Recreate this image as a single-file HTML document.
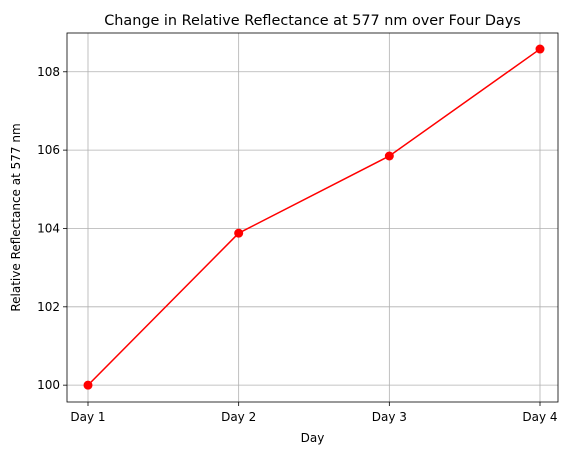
<!DOCTYPE html>
<html><head><meta charset="utf-8"><style>
body{margin:0;background:#fff;}
svg text{font-family:"DejaVu Sans","Liberation Sans",sans-serif;fill:#000;}
</style></head><body>
<svg id="chart" width="571" height="455" xmlns="http://www.w3.org/2000/svg"></svg>
<script>
const categories = ["Day 1","Day 2","Day 3","Day 4"];
const values = [100, 103.88, 105.85, 108.58];
const yTicks = [100, 102, 104, 106, 108];

const L=67, R=558, T=33, B=402;
const yMin=99.57, yMax=108.99;
const xs = i => 88 + i*(540-88)/(categories.length-1);
const ys = v => B - (v-yMin)/(yMax-yMin)*(B-T);
const svg=document.getElementById('chart');
const NS="http://www.w3.org/2000/svg";
function mk(tag, attrs, parent){const e=document.createElementNS(NS,tag);for(const k in attrs)e.setAttribute(k,attrs[k]);(parent||svg).appendChild(e);return e;}

const grid=mk('g',{});


categories.forEach((c,i)=>{
  const x=xs(i);
  mk('line',{x1:x,x2:x,y1:T,y2:B,stroke:'#b0b0b0','stroke-width':0.8},grid);
  const t=mk('line',{x1:x,x2:x,y1:B,y2:B+4,stroke:'#000','stroke-width':0.8});
  
  
  const lb=mk('text',{x:x,y:B+19,'text-anchor':'middle','font-size':12});
  lb.textContent=c;
  
  
});
yTicks.forEach(v=>{
  const y=ys(v);
  mk('line',{x1:L,x2:R,y1:y,y2:y,stroke:'#b0b0b0','stroke-width':0.8},grid);
  const t=mk('line',{x1:L-4,x2:L,y1:y,y2:y,stroke:'#000','stroke-width':0.8});
  
  
  const lb=mk('text',{x:L-7,y:y+4,'text-anchor':'end','font-size':12});
  lb.textContent=v;
  
  
});
const frame=mk('rect',{x:L,y:T,width:R-L,height:B-T,fill:'none',stroke:'#000','stroke-width':0.8});



const line=mk('polyline',{points:values.map((v,i)=>xs(i)+','+ys(v)).join(' '),fill:'none',stroke:'#ff0000','stroke-width':1.5});


values.forEach((v,i)=>{
  const c=mk('circle',{cx:xs(i),cy:ys(v),r:4.5,fill:'#ff0000'});
  
  
});

const title=mk('text',{x:(L+R)/2,y:T-8,'text-anchor':'middle','font-size':14.4});
title.textContent='Change in Relative Reflectance at 577 nm over Four Days';


const xt=mk('text',{x:(L+R)/2,y:442,'text-anchor':'middle','font-size':12});
xt.textContent='Day';


const yt=mk('text',{x:0,y:0,'text-anchor':'middle','font-size':12,transform:`translate(20,${(T+B)/2}) rotate(-90)`});
yt.textContent='Relative Reflectance at 577 nm';


</script>
</body></html>
